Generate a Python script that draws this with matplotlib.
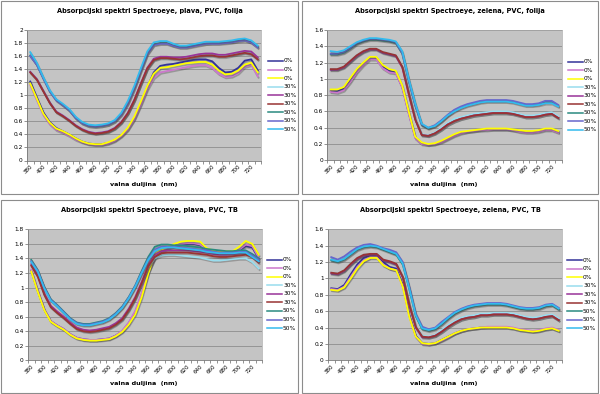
import matplotlib
matplotlib.use("Agg")
import matplotlib.pyplot as plt
import matplotlib.patheffects as pe
from matplotlib.lines import Line2D
from matplotlib.patches import Rectangle

# wavelengths (nm), one category per 10 nm
wavelengths = list(range(380, 731, 10))
tick_labels = [str(w) for w in wavelengths if w % 20 == 0 and w <= 720]
series_labels = ["0%", "0%", "0%", "30%", "30%", "30%", "50%", "50%", "50%"]
series_colors = ["#333399", "#CC77CC", "#FFFF00", "#99DDEE", "#993399",
                 "#993333", "#2A8A80", "#6666CC", "#33BBEE"]

# --- plava, PVC, folija ---
pf_0_a = [1.21, 0.97, 0.74, 0.59, 0.50, 0.45, 0.40, 0.34, 0.29, 0.26, 0.25, 0.25, 0.27, 0.31, 0.38, 0.48, 0.64, 0.87,
          1.12, 1.35, 1.45, 1.47, 1.48, 1.50, 1.52, 1.54, 1.55, 1.55, 1.52, 1.42, 1.35, 1.36, 1.42, 1.53, 1.55, 1.38]
pf_0_b = [1.16, 0.93, 0.70, 0.56, 0.47, 0.43, 0.38, 0.32, 0.28, 0.25, 0.24, 0.24, 0.26, 0.30, 0.37, 0.47, 0.63, 0.85,
          1.09, 1.27, 1.35, 1.37, 1.39, 1.41, 1.43, 1.45, 1.46, 1.46, 1.42, 1.33, 1.28, 1.29, 1.34, 1.44, 1.47, 1.29]
pf_0_c = [1.18, 0.95, 0.72, 0.58, 0.49, 0.45, 0.40, 0.34, 0.29, 0.26, 0.25, 0.25, 0.28, 0.32, 0.39, 0.50, 0.67, 0.90,
          1.14, 1.33, 1.42, 1.43, 1.45, 1.47, 1.49, 1.50, 1.51, 1.51, 1.47, 1.38, 1.32, 1.33, 1.38, 1.47, 1.50, 1.35]
pf_30_a = [1.36, 1.25, 1.07, 0.89, 0.75, 0.69, 0.62, 0.54, 0.48, 0.44, 0.42, 0.43, 0.45, 0.50, 0.59, 0.73, 0.93, 1.18,
           1.42, 1.55, 1.58, 1.58, 1.57, 1.56, 1.57, 1.59, 1.61, 1.62, 1.62, 1.61, 1.61, 1.62, 1.64, 1.66, 1.64, 1.56]
pf_30_b = [1.36, 1.25, 1.07, 0.89, 0.75, 0.69, 0.62, 0.54, 0.48, 0.44, 0.42, 0.43, 0.45, 0.50, 0.59, 0.73, 0.93, 1.18,
           1.42, 1.56, 1.59, 1.59, 1.58, 1.58, 1.59, 1.61, 1.63, 1.64, 1.64, 1.62, 1.62, 1.64, 1.66, 1.68, 1.67, 1.58]
pf_30_c = [1.35, 1.24, 1.06, 0.88, 0.74, 0.68, 0.61, 0.53, 0.47, 0.43, 0.41, 0.42, 0.44, 0.49, 0.58, 0.72, 0.92, 1.17,
           1.41, 1.54, 1.57, 1.57, 1.56, 1.55, 1.56, 1.58, 1.60, 1.61, 1.61, 1.59, 1.59, 1.61, 1.63, 1.65, 1.63, 1.55]
pf_50_a = [1.61, 1.47, 1.26, 1.06, 0.93, 0.85, 0.77, 0.65, 0.57, 0.53, 0.52, 0.53, 0.55, 0.60, 0.71, 0.88, 1.11, 1.38,
           1.64, 1.78, 1.80, 1.80, 1.76, 1.74, 1.74, 1.76, 1.78, 1.79, 1.80, 1.80, 1.81, 1.82, 1.84, 1.85, 1.81, 1.74]
pf_50_b = [1.60, 1.47, 1.26, 1.06, 0.92, 0.85, 0.77, 0.65, 0.57, 0.53, 0.52, 0.53, 0.55, 0.60, 0.70, 0.87, 1.10, 1.37,
           1.63, 1.77, 1.79, 1.79, 1.76, 1.73, 1.73, 1.75, 1.77, 1.79, 1.79, 1.79, 1.80, 1.81, 1.83, 1.84, 1.81, 1.73]
pf_50_c = [1.66, 1.50, 1.28, 1.08, 0.94, 0.87, 0.79, 0.67, 0.59, 0.55, 0.54, 0.55, 0.57, 0.62, 0.73, 0.91, 1.14, 1.41,
           1.67, 1.81, 1.83, 1.83, 1.79, 1.76, 1.76, 1.78, 1.80, 1.82, 1.82, 1.82, 1.83, 1.84, 1.86, 1.87, 1.84, 1.76]

# --- zelena, PVC, folija ---
zf_0_a = [0.85, 0.85, 0.88, 0.98, 1.10, 1.19, 1.26, 1.26, 1.15, 1.10, 1.08, 0.90, 0.58, 0.28, 0.21, 0.19, 0.20, 0.23,
          0.27, 0.31, 0.34, 0.35, 0.36, 0.37, 0.38, 0.38, 0.38, 0.38, 0.37, 0.36, 0.35, 0.35, 0.36, 0.38, 0.38, 0.35]
zf_0_b = [0.84, 0.83, 0.86, 0.96, 1.08, 1.17, 1.24, 1.24, 1.13, 1.08, 1.07, 0.89, 0.57, 0.27, 0.20, 0.19, 0.20, 0.22,
          0.26, 0.30, 0.33, 0.35, 0.36, 0.37, 0.37, 0.38, 0.38, 0.38, 0.37, 0.35, 0.34, 0.34, 0.35, 0.37, 0.37, 0.34]
zf_0_c = [0.87, 0.87, 0.90, 1.01, 1.12, 1.20, 1.27, 1.27, 1.17, 1.12, 1.10, 0.92, 0.60, 0.29, 0.22, 0.20, 0.21, 0.24,
          0.28, 0.32, 0.35, 0.36, 0.37, 0.38, 0.39, 0.39, 0.39, 0.39, 0.38, 0.37, 0.36, 0.36, 0.37, 0.39, 0.39, 0.36]
zf_30_a = [1.12, 1.12, 1.15, 1.22, 1.29, 1.34, 1.37, 1.37, 1.33, 1.31, 1.29, 1.15, 0.83, 0.52, 0.32, 0.31, 0.34, 0.40,
           0.46, 0.51, 0.53, 0.55, 0.57, 0.58, 0.59, 0.60, 0.60, 0.60, 0.59, 0.57, 0.55, 0.55, 0.56, 0.58, 0.59, 0.54]
zf_30_b = [1.11, 1.11, 1.14, 1.21, 1.28, 1.33, 1.36, 1.36, 1.32, 1.30, 1.28, 1.14, 0.81, 0.50, 0.31, 0.30, 0.33, 0.38,
           0.44, 0.48, 0.51, 0.53, 0.55, 0.56, 0.57, 0.58, 0.58, 0.58, 0.57, 0.55, 0.53, 0.53, 0.54, 0.56, 0.57, 0.52]
zf_30_c = [1.12, 1.12, 1.15, 1.22, 1.29, 1.34, 1.37, 1.37, 1.33, 1.31, 1.29, 1.15, 0.82, 0.50, 0.31, 0.30, 0.33, 0.38,
           0.44, 0.48, 0.51, 0.53, 0.55, 0.56, 0.57, 0.58, 0.58, 0.58, 0.57, 0.55, 0.53, 0.53, 0.54, 0.56, 0.57, 0.52]
zf_50_a = [1.30, 1.30, 1.32, 1.37, 1.43, 1.46, 1.48, 1.48, 1.47, 1.46, 1.44, 1.31, 0.97, 0.67, 0.43, 0.39, 0.42, 0.48,
           0.55, 0.61, 0.65, 0.68, 0.70, 0.72, 0.73, 0.73, 0.73, 0.73, 0.72, 0.70, 0.68, 0.68, 0.69, 0.72, 0.72, 0.67]
zf_50_b = [1.31, 1.31, 1.33, 1.38, 1.44, 1.47, 1.49, 1.49, 1.48, 1.47, 1.45, 1.32, 0.98, 0.68, 0.44, 0.40, 0.43, 0.49,
           0.56, 0.62, 0.66, 0.69, 0.71, 0.73, 0.74, 0.74, 0.74, 0.74, 0.73, 0.71, 0.69, 0.69, 0.70, 0.73, 0.73, 0.68]
zf_50_c = [1.34, 1.33, 1.35, 1.40, 1.45, 1.48, 1.50, 1.50, 1.49, 1.48, 1.46, 1.34, 1.00, 0.70, 0.45, 0.40, 0.42, 0.48,
           0.55, 0.60, 0.64, 0.67, 0.69, 0.71, 0.72, 0.72, 0.72, 0.72, 0.71, 0.69, 0.67, 0.67, 0.68, 0.70, 0.70, 0.66]

# --- plava, PVC, TB ---
pt_0_a = [1.23, 0.95, 0.70, 0.54, 0.48, 0.43, 0.36, 0.31, 0.29, 0.28, 0.28, 0.29, 0.30, 0.34, 0.40, 0.51, 0.66, 0.91,
          1.21, 1.41, 1.50, 1.54, 1.57, 1.59, 1.60, 1.60, 1.58, 1.52, 1.49, 1.48, 1.48, 1.49, 1.51, 1.57, 1.55, 1.40]
pt_0_b = [1.24, 0.96, 0.70, 0.54, 0.48, 0.43, 0.36, 0.31, 0.29, 0.28, 0.28, 0.29, 0.30, 0.34, 0.41, 0.52, 0.68, 0.93,
          1.22, 1.40, 1.50, 1.54, 1.57, 1.60, 1.61, 1.61, 1.59, 1.52, 1.49, 1.48, 1.48, 1.49, 1.52, 1.59, 1.57, 1.41]
pt_0_c = [1.22, 0.94, 0.69, 0.53, 0.47, 0.42, 0.35, 0.30, 0.28, 0.27, 0.27, 0.28, 0.29, 0.33, 0.39, 0.49, 0.63, 0.87,
          1.19, 1.45, 1.52, 1.56, 1.60, 1.63, 1.64, 1.64, 1.63, 1.54, 1.51, 1.50, 1.50, 1.50, 1.56, 1.64, 1.60, 1.45]
pt_30_a = [1.31, 1.16, 0.91, 0.74, 0.66, 0.59, 0.51, 0.44, 0.41, 0.40, 0.41, 0.43, 0.45, 0.50, 0.57, 0.70, 0.86, 1.06,
           1.28, 1.40, 1.44, 1.45, 1.45, 1.44, 1.43, 1.42, 1.41, 1.39, 1.37, 1.37, 1.38, 1.39, 1.40, 1.40, 1.35, 1.26]
pt_30_b = [1.32, 1.17, 0.92, 0.75, 0.67, 0.60, 0.52, 0.45, 0.42, 0.41, 0.42, 0.44, 0.46, 0.51, 0.58, 0.71, 0.87, 1.08,
           1.31, 1.45, 1.50, 1.51, 1.51, 1.51, 1.51, 1.50, 1.49, 1.48, 1.46, 1.45, 1.45, 1.46, 1.47, 1.48, 1.45, 1.37]
pt_30_c = [1.30, 1.15, 0.90, 0.73, 0.65, 0.58, 0.50, 0.43, 0.40, 0.39, 0.40, 0.42, 0.44, 0.49, 0.56, 0.69, 0.85, 1.06,
           1.29, 1.42, 1.47, 1.48, 1.48, 1.48, 1.48, 1.47, 1.46, 1.45, 1.43, 1.42, 1.42, 1.43, 1.44, 1.45, 1.42, 1.34]
pt_50_a = [1.38, 1.24, 1.01, 0.84, 0.76, 0.67, 0.58, 0.52, 0.50, 0.50, 0.52, 0.54, 0.58, 0.65, 0.74, 0.87, 1.03, 1.23,
           1.42, 1.56, 1.59, 1.59, 1.58, 1.58, 1.57, 1.56, 1.55, 1.53, 1.52, 1.51, 1.50, 1.50, 1.51, 1.51, 1.46, 1.40]
pt_50_b = [1.36, 1.23, 1.00, 0.83, 0.75, 0.66, 0.57, 0.51, 0.49, 0.49, 0.51, 0.53, 0.57, 0.64, 0.73, 0.86, 1.02, 1.21,
           1.39, 1.52, 1.56, 1.56, 1.56, 1.55, 1.54, 1.53, 1.52, 1.51, 1.49, 1.48, 1.48, 1.48, 1.49, 1.49, 1.44, 1.38]
pt_50_c = [1.35, 1.22, 0.99, 0.82, 0.74, 0.65, 0.56, 0.50, 0.48, 0.48, 0.50, 0.52, 0.56, 0.63, 0.72, 0.85, 1.01, 1.20,
           1.38, 1.50, 1.54, 1.55, 1.55, 1.54, 1.53, 1.52, 1.51, 1.49, 1.48, 1.47, 1.47, 1.47, 1.48, 1.48, 1.42, 1.36]

# --- zelena, PVC, TB ---
zt_0_a = [0.88, 0.87, 0.92, 1.05, 1.17, 1.25, 1.28, 1.28, 1.20, 1.14, 1.12, 0.92, 0.55, 0.30, 0.21, 0.20, 0.21, 0.25,
          0.29, 0.33, 0.36, 0.38, 0.39, 0.40, 0.40, 0.40, 0.40, 0.40, 0.39, 0.37, 0.36, 0.35, 0.36, 0.38, 0.39, 0.36]
zt_0_b = [0.87, 0.86, 0.90, 1.02, 1.14, 1.22, 1.26, 1.26, 1.17, 1.12, 1.10, 0.90, 0.54, 0.29, 0.20, 0.19, 0.21, 0.24,
          0.28, 0.33, 0.36, 0.38, 0.39, 0.40, 0.41, 0.41, 0.41, 0.41, 0.40, 0.38, 0.37, 0.36, 0.37, 0.39, 0.40, 0.37]
zt_0_c = [0.86, 0.85, 0.89, 1.00, 1.12, 1.21, 1.25, 1.25, 1.16, 1.12, 1.10, 0.90, 0.53, 0.29, 0.21, 0.20, 0.21, 0.25,
          0.29, 0.33, 0.36, 0.38, 0.39, 0.40, 0.40, 0.40, 0.40, 0.40, 0.39, 0.37, 0.36, 0.35, 0.36, 0.38, 0.39, 0.36]
zt_30_a = [1.07, 1.06, 1.10, 1.18, 1.25, 1.29, 1.30, 1.30, 1.23, 1.21, 1.18, 1.02, 0.69, 0.42, 0.30, 0.29, 0.31, 0.37,
           0.43, 0.48, 0.52, 0.54, 0.55, 0.57, 0.57, 0.58, 0.58, 0.58, 0.57, 0.55, 0.53, 0.52, 0.53, 0.55, 0.56, 0.51]
zt_30_b = [1.06, 1.05, 1.09, 1.17, 1.24, 1.28, 1.29, 1.29, 1.22, 1.20, 1.17, 1.01, 0.67, 0.40, 0.28, 0.28, 0.30, 0.35,
           0.41, 0.46, 0.50, 0.52, 0.53, 0.55, 0.55, 0.56, 0.56, 0.56, 0.55, 0.53, 0.51, 0.50, 0.51, 0.53, 0.54, 0.49]
zt_30_c = [1.07, 1.06, 1.10, 1.18, 1.25, 1.29, 1.30, 1.30, 1.23, 1.21, 1.18, 1.02, 0.68, 0.41, 0.29, 0.28, 0.30, 0.35,
           0.41, 0.46, 0.50, 0.52, 0.53, 0.55, 0.55, 0.56, 0.56, 0.56, 0.55, 0.53, 0.51, 0.50, 0.51, 0.53, 0.54, 0.49]
zt_50_a = [1.22, 1.20, 1.23, 1.29, 1.35, 1.38, 1.39, 1.38, 1.35, 1.32, 1.29, 1.17, 0.87, 0.54, 0.38, 0.36, 0.38, 0.44,
           0.51, 0.57, 0.61, 0.64, 0.66, 0.67, 0.68, 0.68, 0.68, 0.67, 0.65, 0.63, 0.62, 0.62, 0.63, 0.66, 0.67, 0.62]
zt_50_b = [1.26, 1.23, 1.27, 1.33, 1.38, 1.41, 1.42, 1.40, 1.37, 1.35, 1.32, 1.20, 0.90, 0.57, 0.41, 0.38, 0.40, 0.47,
           0.53, 0.59, 0.63, 0.66, 0.68, 0.69, 0.70, 0.70, 0.70, 0.69, 0.67, 0.65, 0.64, 0.64, 0.65, 0.68, 0.69, 0.64]
zt_50_c = [1.23, 1.21, 1.24, 1.30, 1.36, 1.39, 1.40, 1.39, 1.36, 1.33, 1.30, 1.18, 0.88, 0.55, 0.39, 0.37, 0.39, 0.45,
           0.52, 0.58, 0.62, 0.65, 0.67, 0.68, 0.69, 0.69, 0.69, 0.68, 0.66, 0.64, 0.63, 0.63, 0.64, 0.67, 0.68, 0.63]

W, H = 600, 394

def fx(x):
    return x / W

def fy(y):
    return 1 - y / H

panels = [
    # title, ymax, series, frame (x0,y0,x1,y1), axes (l,t,r,b), legend x, legend y0
    ("Absorpcijski spektri Spectroeye, plava, PVC, folija", 2.0,
     [pf_0_a, pf_0_b, pf_0_c, pf_30_a, pf_30_b, pf_30_c, pf_50_a, pf_50_b, pf_50_c],
     (1, 0.5, 298, 193.5), (27, 30, 261, 160.5), 268, 61),
    ("Absorpcijski spektri Spectroeye, zelena, PVC, folija", 1.6,
     [zf_0_a, zf_0_b, zf_0_c, zf_30_a, zf_30_b, zf_30_c, zf_50_a, zf_50_b, zf_50_c],
     (302, 0.5, 598, 193.5), (327.5, 30, 561.5, 160.3), 568, 61.5),
    ("Absorpcijski spektri Spectroeye, plava, PVC, TB", 1.8,
     [pt_0_a, pt_0_b, pt_0_c, pt_30_a, pt_30_b, pt_30_c, pt_50_a, pt_50_b, pt_50_c],
     (1, 199.5, 298, 392.5), (28, 229.3, 262, 360.3), 267, 259.7),
    ("Absorpcijski spektri Spectroeye, zelena, PVC, TB", 1.6,
     [zt_0_a, zt_0_b, zt_0_c, zt_30_a, zt_30_b, zt_30_c, zt_50_a, zt_50_b, zt_50_c],
     (302, 199.5, 598, 392.5), (328, 229.3, 562, 360.3), 567, 260),
]

fig = plt.figure(figsize=(6, 3.94), dpi=100)
fig.patch.set_facecolor("white")

shadow = [pe.SimpleLineShadow(offset=(0.6, -1.0), shadow_color="#444444", alpha=0.35), pe.Normal()]
cats = list(range(len(wavelengths)))

for title, ymax, series, frame, box, leg_x, leg_y in panels:
    x0, y0, x1, y1 = frame
    fig.add_artist(Rectangle((fx(x0), fy(y1)), fx(x1 - x0), (y1 - y0) / H,
                             transform=fig.transFigure, fill=False,
                             edgecolor="#8C8C8C", linewidth=0.8))
    l, t, r, b = box
    ax = fig.add_axes([fx(l), fy(b), fx(r - l), (b - t) / H])
    ax.set_facecolor("#C4C4C4")
    for vals, col in zip(series, series_colors):
        ax.plot(cats, vals, color=col, linewidth=1.3, path_effects=shadow,
                solid_joinstyle="round")
    ax.set_xlim(-0.5, len(wavelengths) - 0.5)
    ax.set_ylim(0, ymax)
    yt = [round(0.2 * k, 1) for k in range(int(round(ymax / 0.2)) + 1)]
    ax.set_yticks(yt)
    ax.set_yticklabels([f"{v:g}" for v in yt], fontsize=4.2)
    ax.yaxis.grid(True, color="#8E8E8E", linewidth=0.6)
    ax.set_axisbelow(True)
    ax.set_xticks(list(range(0, 35, 2)))
    ax.set_xticklabels(tick_labels, fontsize=4.0, rotation=45, ha="right",
                       va="top", rotation_mode="anchor")
    ax.set_xticks([k - 0.5 for k in range(len(wavelengths) + 1)], minor=True)
    ax.tick_params(axis="x", which="major", length=0, pad=2.5)
    ax.tick_params(axis="x", which="minor", length=2, width=0.5, color="#666666", direction="out")
    ax.tick_params(axis="y", length=2, width=0.5, color="#666666", pad=1)
    for side in ("left", "bottom"):
        ax.spines[side].set_color("#777777")
        ax.spines[side].set_linewidth(0.6)
    for side in ("top", "right"):
        ax.spines[side].set_color("#A8A8A8")
        ax.spines[side].set_linewidth(0.5)

    cx = (x0 + x1) / 2
    fig.text(fx(cx), fy(y0 + 10.5), title, ha="center", va="center",
             fontsize=4.8, fontweight="bold")
    fig.text(fx(cx - 6), fy(y0 + 183.5), "valna duljina  (nm)", ha="center",
             va="center", fontsize=4.6, fontweight="bold")

    # legend
    for k, (lab, col) in enumerate(zip(series_labels, series_colors)):
        yy = leg_y + k * 8.55
        fig.add_artist(Line2D([fx(leg_x), fx(leg_x + 15)], [fy(yy), fy(yy)],
                              transform=fig.transFigure, color=col, linewidth=1.1))
        fig.text(fx(leg_x + 16), fy(yy), lab, ha="left", va="center", fontsize=4.2)

fig.savefig("out.png", dpi=100, facecolor="white")
